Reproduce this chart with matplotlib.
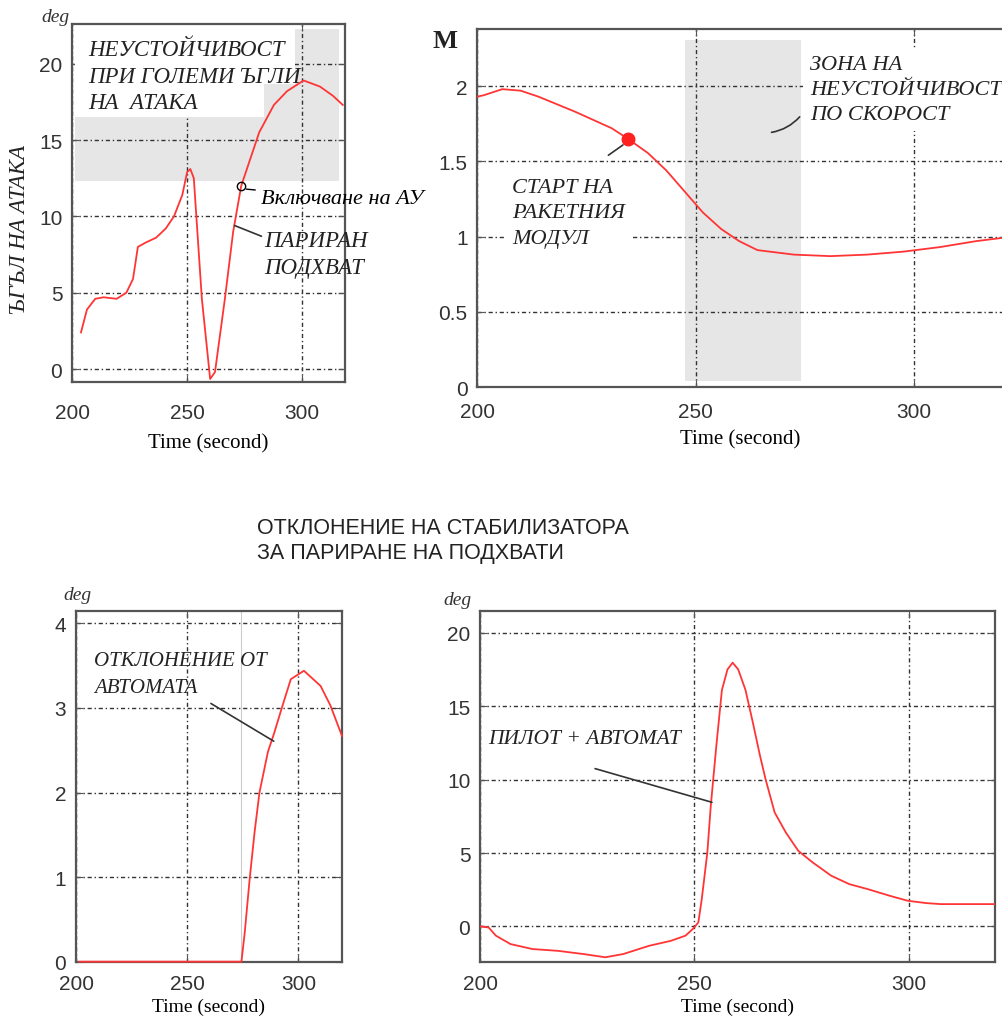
import matplotlib.pyplot as plt
from matplotlib.patches import Rectangle

# angle of attack (top left)
t_aoa = [203.9, 206.5, 210.1, 213.7, 219.4, 223.6, 226.5, 228.6, 232.2, 236.5,
         240.7, 244.3, 247.9, 250.0, 251.4, 252.9, 256.4, 260.0, 262.1, 266.4,
         270.0, 273.5, 276.4, 281.3, 287.7, 293.4, 300.6, 307.7, 313.3, 317.6]
aoa = [2.4, 3.9, 4.6, 4.7, 4.6, 5.0, 5.9, 8.0, 8.3, 8.6,
       9.2, 10.0, 11.4, 12.9, 13.1, 12.5, 4.6, -0.65, -0.2, 4.6,
       9.0, 12.0, 13.3, 15.5, 17.3, 18.2, 18.9, 18.5, 17.9, 17.3]

# Mach number (top right)
t_mach = [200.0, 201.5, 205.7, 209.9, 214.0, 222.4, 230.8, 234.5, 239.1, 243.3,
          247.5, 251.7, 255.9, 260.0, 264.2, 272.6, 280.9, 289.3, 297.7, 306.0,
          314.4, 320.0]
mach = [1.93, 1.94, 1.98, 1.97, 1.93, 1.83, 1.72, 1.65, 1.555, 1.44,
        1.30, 1.16, 1.05, 0.97, 0.91, 0.88, 0.87, 0.88, 0.90, 0.93,
        0.97, 0.99]
rocket_start = (234.5, 1.65)

# stabilizer deflection by the automat (bottom left)
t_auto = [201.5, 274.4, 275.9, 278.1, 280.3, 282.5, 286.3, 289.2, 292.9, 296.6,
          302.5, 310.0, 314.4, 319.6]
auto = [0.0, 0.0, 0.35, 0.98, 1.53, 2.0, 2.48, 2.71, 3.03, 3.34,
        3.44, 3.26, 3.03, 2.67]

# pilot + automat (bottom right)
t_total = [200.0, 202.0, 203.7, 207.1, 212.2, 218.1, 224.1, 229.2, 233.4, 239.4,
           244.5, 247.9, 249.6, 250.9, 251.7, 253.0, 253.8, 255.1, 256.4, 257.7,
           258.9, 260.2, 261.9, 263.6, 265.3, 266.6, 268.7, 271.3, 274.2, 277.6,
           281.9, 286.1, 290.4, 295.5, 299.7, 304.0, 307.4, 320.0]
total = [0.0, -0.07, -0.63, -1.2, -1.54, -1.66, -1.88, -2.1, -1.88, -1.32,
         -0.98, -0.63, -0.18, 0.27, 1.86, 5.03, 8.2, 12.3, 16.1, 17.5,
         17.96, 17.5, 16.1, 13.9, 11.6, 10.0, 7.76, 6.4, 5.15, 4.35,
         3.45, 2.88, 2.54, 2.09, 1.75, 1.59, 1.52, 1.52]

RED = "#ff3535"
GREY = "#e6e6e6"
SERIF = "Liberation Serif"
SANS = "Liberation Sans"
grid_style = (0, (3, 2, 1, 2))

plt.rcParams["font.family"] = SANS

fig = plt.figure(figsize=(10.03, 10.2), dpi=100)


def style(ax, xticks, yticks, ylabels=None, xpad=10, labelpad=6, xlsize=15):
    ax.set_xticks(xticks)
    ax.set_yticks(yticks)
    if ylabels is not None:
        ax.set_yticklabels(ylabels)
    ax.set_axisbelow(True)
    ax.grid(True, color="#333333", linestyle=grid_style, linewidth=1.0)
    ax.tick_params(direction="in", top=True, right=True, length=5,
                   labelsize=15, labelcolor="#333333", color="#555555", pad=7)
    ax.tick_params(axis="x", pad=xpad)
    for s in ax.spines.values():
        s.set_color("#555555")
        s.set_linewidth(1.6)
    ax.set_xlabel("Time (second)", family=SERIF, fontsize=xlsize,
                  labelpad=labelpad)


def note(ax, x, y, s, size=16, spacing=1.1, **kw):
    ax.text(x, y, s, family=SERIF, style="italic", fontsize=size,
            color="#222222", linespacing=spacing, **kw)


# ---- top left: angle of attack
ax1 = fig.add_axes([0.0718, 0.6245, 0.272, 0.351])
ax1.set_xlim(201.5, 318.5)
ax1.set_ylim(-0.85, 22.6)
ax1.add_patch(Rectangle((201.5, 12.3), 114.5, 10.0, color=GREY, zorder=0, lw=0))
style(ax1, [200, 250, 300], [0, 5, 10, 15, 20], ["0", "5", "10", "15", "20"],
      xpad=15, labelpad=8)
ax1.set_xticklabels(["200", "250", "300"])
ax1.add_patch(Rectangle((201.5, 16.5), 81.8, 6.1, color="white", zorder=1, lw=0))
ax1.add_patch(Rectangle((283.0, 18.7), 14.0, 3.9, color="white", zorder=1, lw=0))
ax1.plot(t_aoa, aoa, color=RED, lw=1.3, zorder=3)
note(ax1, 207, 21.6, "НЕУСТОЙЧИВОСТ\nПРИ ГОЛЕМИ ЪГЛИ\nНА  АТАКА", size=16.5,
     spacing=1.35, va="top", zorder=4)
ax1.plot([273.3], [12.0], "o", mfc="none", mec="black", ms=6, zorder=4)
ax1.annotate("Включване на АУ", xy=(274.5, 11.8), xytext=(282.0, 11.2),
             family=SERIF, style="italic", fontsize=16, va="center",
             arrowprops=dict(arrowstyle="-", color="black", lw=1),
             annotation_clip=False, zorder=4)
ax1.annotate("ПАРИРАН\nПОДХВАТ", xy=(270.6, 9.4), xytext=(283.5, 9.1),
             family=SERIF, style="italic", fontsize=16.5, va="top",
             color="#222222", linespacing=1.4,
             arrowprops=dict(arrowstyle="-", color="#333333", lw=1.2,
                             shrinkA=0, shrinkB=0, relpos=(0, 0.85)),
             annotation_clip=False, zorder=4)
ax1.set_ylabel("ЪГЪЛ НА АТАКА", family=SERIF, style="italic", fontsize=16.5,
               color="#222222")
ax1.yaxis.set_label_coords(-0.155, 0.43)
fig.text(0.055, 0.983, "deg", family=SERIF, style="italic", fontsize=14,
         ha="center", va="center", color="#333333")

# ---- top right: Mach number
ax2 = fig.add_axes([0.476, 0.6196, 0.524, 0.351])
ax2.set_xlim(200, 320.5)
ax2.set_ylim(0, 2.38)
ax2.add_patch(Rectangle((247.5, 0.04), 26.8, 2.27, color=GREY, zorder=0, lw=0))
style(ax2, [200, 250, 300], [0, 0.5, 1, 1.5, 2], ["0", "0.5", "1", "1.5", "2"],
      xpad=11, labelpad=6)
ax2.spines["right"].set_visible(False)
ax2.tick_params(right=False)
ax2.plot(t_mach, mach, color=RED, lw=1.3, zorder=3)
ax2.plot(*rocket_start, "o", color="#ff2020", ms=9, zorder=4)
ax2.annotate("", xy=(rocket_start[0] - 0.6, rocket_start[1] - 0.03),
             xytext=(229.5, 1.53),
             arrowprops=dict(arrowstyle="-", color="#333333", lw=1.2))
note(ax2, 208, 1.39, "СТАРТ НА\nРАКЕТНИЯ\nМОДУЛ", size=16, spacing=1.45,
     va="top", zorder=4, bbox=dict(facecolor="white", edgecolor="none", pad=5))
ax2.annotate("", xy=(266.8, 1.69), xytext=(274.3, 1.81),
             arrowprops=dict(arrowstyle="-", color="#333333", lw=1.2,
                             connectionstyle="arc3,rad=-0.2"))
note(ax2, 276.3, 2.21, "ЗОНА НА\nНЕУСТОЙЧИВОСТ\nПО СКОРОСТ", size=16,
     spacing=1.45, va="top", zorder=4,
     bbox=dict(facecolor="white", edgecolor="none", pad=5))
fig.text(0.444, 0.959, "M", family=SERIF, fontweight="bold", fontsize=19,
         ha="center", va="center", color="#222222")

# ---- middle title
fig.text(0.256, 0.470, "ОТКЛОНЕНИЕ НА СТАБИЛИЗАТОРА\nЗА ПАРИРАНЕ НА ПОДХВАТИ",
         family=SANS, fontsize=15.5, ha="left", va="center", color="#222222",
         linespacing=1.25)

# ---- bottom left: automat deflection
ax3 = fig.add_axes([0.0758, 0.0562, 0.2649, 0.3441])
ax3.set_xlim(201.5, 319.5)
ax3.set_ylim(0, 4.15)
style(ax3, [200, 250, 300], [0, 1, 2, 3, 4], xpad=9, labelpad=3, xlsize=14)
ax3.axvline(274.4, color="#cccccc", lw=0.8, zorder=1)
ax3.plot(t_auto, auto, color=RED, lw=1.3, zorder=3, clip_on=False)
ax3.annotate("", xy=(290, 2.59), xytext=(259.6, 3.07),
             arrowprops=dict(arrowstyle="-", color="#333333", lw=1.2))
note(ax3, 208, 3.40, "ОТКЛОНЕНИЕ ОТ\nАВТОМАТА", size=15, spacing=1.55,
     va="center", zorder=4)
fig.text(0.077, 0.416, "deg", family=SERIF, style="italic", fontsize=14,
         ha="center", va="center", color="#333333")

# ---- bottom right: pilot + automat
ax4 = fig.add_axes([0.4786, 0.0562, 0.5131, 0.3441])
ax4.set_xlim(200, 320)
ax4.set_ylim(-2.4, 21.5)
style(ax4, [200, 250, 300], [0, 5, 10, 15, 20], xpad=9, labelpad=3, xlsize=14)
ax4.plot(t_total, total, color=RED, lw=1.3, zorder=3)
ax4.annotate("", xy=(254.7, 8.4), xytext=(226.2, 10.8),
             arrowprops=dict(arrowstyle="-", color="#333333", lw=1.2))
note(ax4, 202, 12.8, "ПИЛОТ + АВТОМАТ", size=15.5, va="center", zorder=4)
fig.text(0.456, 0.411, "deg", family=SERIF, style="italic", fontsize=14,
         ha="center", va="center", color="#333333")

fig.savefig("out.png", dpi=100)
